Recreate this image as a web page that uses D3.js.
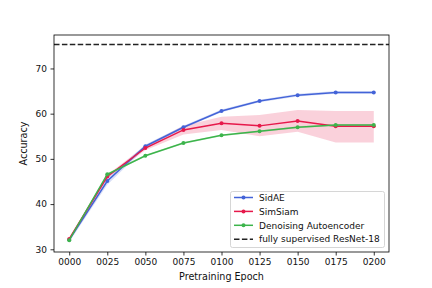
<!DOCTYPE html>
<html>
<head>
<meta charset="utf-8">
<script src="https://cdn.jsdelivr.net/npm/d3@7"></script>
<style>
    body { margin: 0; background: #fff; }
    svg { font-family: "DejaVu Sans", sans-serif; }
</style>
</head>
<body>
<svg width="432" height="288"></svg>
<script>
// Chart values.
var epochs = [0, 25, 50, 75, 100, 125, 150, 175, 200];
var epochLabels = ["0000", "0025", "0050", "0075", "0100", "0125", "0150", "0175", "0200"];
var accuracyTicks = [30, 40, 50, 60, 70];

var sidae = [32.1, 45.1, 52.8, 57.0, 60.6, 62.8, 64.1, 64.7, 64.7];
var sidaeLow = [31.6, 44.3, 52.4, 56.7, 60.3, 62.5, 63.8, 64.4, 64.4];
var sidaeHigh = [32.5, 45.9, 53.2, 57.3, 60.9, 63.1, 64.4, 65.0, 65.0];

var simsiam = [32.3, 46.1, 52.4, 56.4, 57.9, 57.3, 58.4, 57.2, 57.2];
var simsiamLow = [32.1, 45.7, 51.9, 55.4, 56.4, 55.0, 56.0, 53.6, 53.6];
var simsiamHigh = [32.5, 46.5, 52.9, 57.3, 59.3, 59.7, 60.8, 60.6, 60.6];

var dae = [32.0, 46.6, 50.7, 53.5, 55.2, 56.1, 57.0, 57.5, 57.5];
var daeLow = [31.8, 46.4, 50.5, 53.3, 55.0, 55.9, 56.8, 57.3, 57.3];
var daeHigh = [32.2, 46.8, 50.9, 53.7, 55.4, 56.3, 57.2, 57.7, 57.7];

var supervised = 75.3;

var series = [
    { name: "SidAE", color: "#4363d8", values: sidae, low: sidaeLow, high: sidaeHigh },
    { name: "SimSiam", color: "#e6194b", values: simsiam, low: simsiamLow, high: simsiamHigh },
    { name: "Denoising Autoencoder", color: "#3cb44b", values: dae, low: daeLow, high: daeHigh }
];

// plot box in pixels ("top" is taken by window.top, so use other names)
var plotLeft = 54, plotRight = 389, plotTop = 35, plotBottom = 252;

var svg = d3.select("svg");

var x = d3.scaleLinear().domain([-10, 210]).range([plotLeft, plotRight]);
var y = d3.scaleLinear().domain([29.4, 77.4]).range([plotBottom, plotTop]);

// Bands first, then lines on top.
var area = d3.area()
    .x(function(d) { return x(d.e); })
    .y0(function(d) { return y(d.lo); })
    .y1(function(d) { return y(d.hi); });

var line = d3.line()
    .x(function(d) { return x(d.e); })
    .y(function(d) { return y(d.v); });

series.forEach(function(s) {
    var pts = epochs.map(function(e, i) {
        return { e: e, v: s.values[i], lo: s.low[i], hi: s.high[i] };
    });
    s.points = pts;
    svg.append("path")
        .attr("d", area(pts))
        .attr("fill", s.color)
        .attr("fill-opacity", 0.2)
        .attr("stroke", "none");
});

series.forEach(function(s) {
    var g = svg.append("g");
    g.append("path")
        .attr("d", line(s.points))
        .attr("fill", "none")
        .attr("stroke", s.color)
        .attr("stroke-width", 1.5);
    g.selectAll("circle")
        .data(s.points)
        .enter().append("circle")
        .attr("cx", function(d) { return x(d.e); })
        .attr("cy", function(d) { return y(d.v); })
        .attr("r", 2)
        .attr("fill", s.color);
});

svg.append("line")
    .attr("x1", plotLeft).attr("x2", plotRight)
    .attr("y1", y(supervised)).attr("y2", y(supervised))
    .attr("stroke", "#222")
    .attr("stroke-width", 1.5)
    .attr("stroke-dasharray", "5.5,2.4");

// Axes
var xAxis = d3.axisBottom(x)
    .tickValues(epochs)
    .tickFormat(function(d, i) { return epochLabels[i]; })
    .tickSizeOuter(0)
    .tickSize(3.5)
    .tickPadding(3.5);
var yAxis = d3.axisLeft(y)
    .tickValues(accuracyTicks)
    .tickSizeOuter(0)
    .tickSize(3.5)
    .tickPadding(3.5);

var gx = svg.append("g").attr("transform", "translate(0," + plotBottom + ")").call(xAxis);
var gy = svg.append("g").attr("transform", "translate(" + plotLeft + ",0)").call(yAxis);
[gx, gy].forEach(function(g) {
    g.select(".domain").remove();
    g.selectAll("line").attr("stroke", "#000").attr("stroke-width", 0.8);
    g.selectAll("text").attr("fill", "#111").style("font-size", "9px").style("font-family", "DejaVu Sans");
});

svg.append("rect")
    .attr("x", plotLeft).attr("y", plotTop)
    .attr("width", plotRight - plotLeft).attr("height", plotBottom - plotTop)
    .attr("fill", "none")
    .attr("stroke", "#000")
    .attr("stroke-width", 0.8);

svg.append("text")
    .attr("x", (plotLeft + plotRight) / 2)
    .attr("y", 280)
    .attr("text-anchor", "middle")
    .style("font-size", "9.6px")
    .attr("fill", "#111")
    .text("Pretraining Epoch");

svg.append("text")
    .attr("transform", "translate(27," + ((plotTop + plotBottom) / 2) + ") rotate(-90)")
    .attr("text-anchor", "middle")
    .style("font-size", "9.6px")
    .attr("fill", "#111")
    .text("Accuracy");

// Legend
var legendItems = series.map(function(s) { return { name: s.name, color: s.color, dashed: false }; });
legendItems.push({ name: "fully supervised ResNet-18", color: "#222", dashed: true });

var lg = svg.append("g");
lg.append("rect")
    .attr("x", 230.5).attr("y", 191.5)
    .attr("width", 154).attr("height", 56)
    .attr("rx", 2)
    .attr("fill", "#fff")
    .attr("fill-opacity", 0.8)
    .attr("stroke", "#ccc")
    .attr("stroke-width", 0.8);

legendItems.forEach(function(item, i) {
    var yy = 197.5 + i * 13.9;
    lg.append("line")
        .attr("x1", 234).attr("x2", 253)
        .attr("y1", yy).attr("y2", yy)
        .attr("stroke", item.color)
        .attr("stroke-width", 1.5)
        .attr("stroke-dasharray", item.dashed ? "5.5,2.4" : null);
    if (!item.dashed) {
        lg.append("circle")
            .attr("cx", 243.5).attr("cy", yy)
            .attr("r", 2)
            .attr("fill", item.color);
    }
    lg.append("text")
        .attr("x", 259)
        .attr("y", yy + 3.2)
        .style("font-size", "9px")
        .attr("fill", "#111")
        .text(item.name);
});
</script>
</body>
</html>
